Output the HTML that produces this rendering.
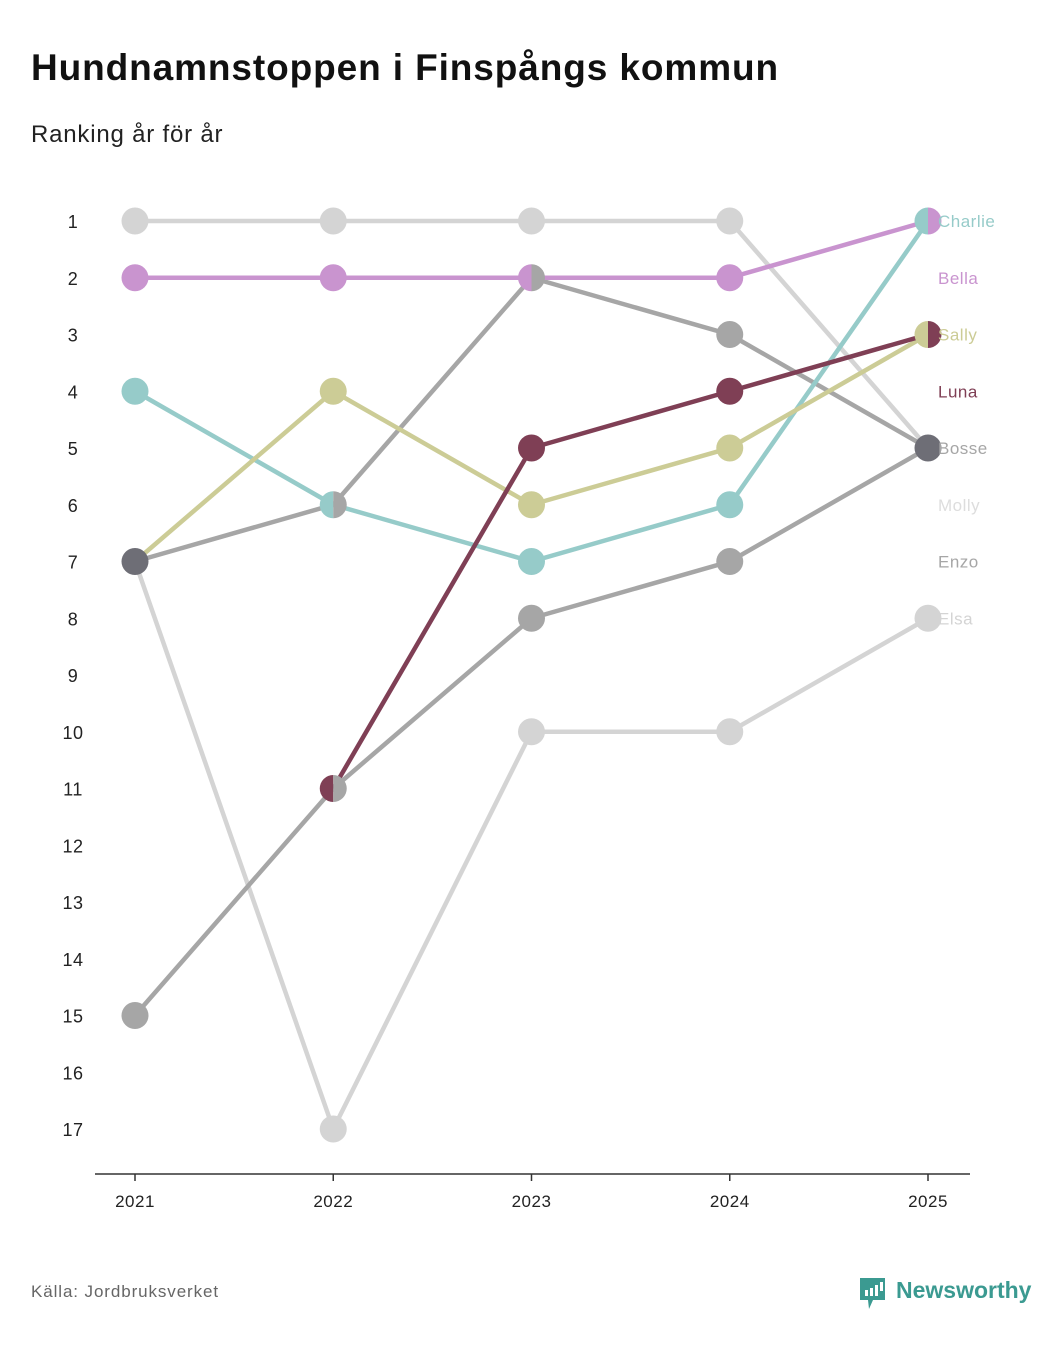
<!DOCTYPE html>
<html><head><meta charset="utf-8"><style>
body{margin:0;background:#fff;font-family:"Liberation Sans",sans-serif;}
</style></head><body>
<svg id="chart" width="1062" height="1340" xmlns="http://www.w3.org/2000/svg">
<text x="31" y="80" font-size="37" font-weight="bold" fill="#111" letter-spacing="0.9">Hundnamnstoppen i Finspångs kommun</text>
<text x="31" y="142" font-size="24" fill="#222" letter-spacing="0.8">Ranking år för år</text>
<line x1="95" y1="1174" x2="970" y2="1174" stroke="#333" stroke-width="1.5"/>
<g id="plot"></g>
<text x="31" y="1297" font-size="17" fill="#666" letter-spacing="0.9">Källa: Jordbruksverket</text>
<g>
<path d="M860 1278 h25 v22 h-12 l-4 9 l-1 -9 h-8 z" fill="#3b9a91"/>
<rect x="865" y="1290" width="3" height="6" fill="#fff"/><rect x="870" y="1288" width="3" height="8" fill="#fff"/><rect x="875" y="1285" width="3" height="11" fill="#fff"/><rect x="880" y="1282" width="3" height="9" fill="#fff"/>
<text x="896" y="1298" font-size="23" font-weight="bold" fill="#3b9a91">Newsworthy</text>
</g>
</svg>
<script>
const years=[2021,2022,2023,2024,2025];
const names=["Charlie","Bella","Sally","Luna","Bosse","Molly","Enzo","Elsa"];
const colors=["#96cbc9","#c994cf","#cccc96","#7f3f55","#a6a6a6","#d4d4d4","#a6a6a6","#d4d4d4"];
const labelColors=["#96cbc9","#c994cf","#cccc96","#7f3f55","#a6a6a6","#dddddd","#a6a6a6","#d4d4d4"];
const charlie=[4,6,7,6,1];
const bella=[2,2,2,2,1];
const sally=[7,4,6,5,3];
const luna=[null,11,5,4,3];
const bosse=[7,6,2,3,5];
const molly=[1,1,1,1,5];
const enzo=[15,11,8,7,5];
const elsa=[7,17,10,10,8];
const series=[charlie,bella,sally,luna,bosse,molly,enzo,elsa];
const rankTicks=[1,2,3,4,5,6,7,8,9,10,11,12,13,14,15,16,17];
const NS="http://www.w3.org/2000/svg";
const x=i=>135+i*(928-135)/(years.length-1);
const y=r=>221+(r-1)*(1129-221)/16;
const g=document.getElementById('plot');
function el(t,a){const e=document.createElementNS(NS,t);for(const k in a)e.setAttribute(k,a[k]);g.appendChild(e);return e;}
rankTicks.forEach(r=>{const t=el('text',{x:73,y:y(r)+7,'font-size':18,fill:'#222','text-anchor':'middle','letter-spacing':0.5});t.textContent=r;

});
years.forEach((yr,i)=>{el('line',{x1:x(i),y1:1174,x2:x(i),y2:1181,stroke:'#333','stroke-width':1.5});
const t=el('text',{x:x(i),y:1207,'font-size':17,fill:'#222','text-anchor':'middle','letter-spacing':0.5});t.textContent=yr;

});
const order=[5,7,4,6,0,1,2,3];
order.forEach(s=>{const d=series[s];let pts=[];d.forEach((v,i)=>{if(v!=null)pts.push(x(i)+','+y(v));});
const p=el('polyline',{points:pts.join(' '),fill:'none',stroke:colors[s],'stroke-width':4.5});

});
years.forEach((yr,i)=>{const groups={};series.forEach((d,s)=>{if(d[i]!=null){(groups[d[i]]=groups[d[i]]||[]).push(s);}});
for(const r in groups){const ss=groups[r];const cx=x(i),cy=y(+r),R=13.5;
if(ss.length>=3){const c=el('circle',{cx:cx,cy:cy,r:R,fill:'#6e6e76'});}
else if(ss.length==2){const a=el('path',{d:`M${cx} ${cy-R} A${R} ${R} 0 0 0 ${cx} ${cy+R} Z`,fill:colors[ss[0]]});


const b=el('path',{d:`M${cx} ${cy-R} A${R} ${R} 0 0 1 ${cx} ${cy+R} Z`,fill:colors[ss[1]]});

}
else{const c=el('circle',{cx:cx,cy:cy,r:R,fill:colors[ss[0]]});

}}});
names.forEach((n,k)=>{const t=el('text',{x:938,y:y(k+1)+6,'font-size':17,fill:labelColors[k],'letter-spacing':0.5});t.textContent=n;

});
</script>
</body></html>
